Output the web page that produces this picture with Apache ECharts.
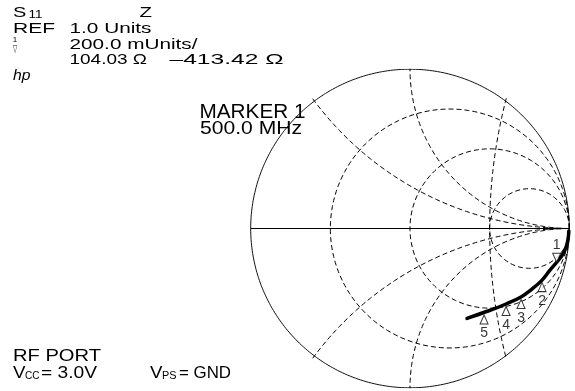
<!DOCTYPE html>
<html>
<head>
<meta charset="utf-8">
<script src="https://cdn.jsdelivr.net/npm/echarts@6/dist/echarts.min.js"></script>
<style>
  html, body { margin: 0; padding: 0; background: #fff; }
  #chart { width: 575px; height: 391px; }
</style>
</head>
<body>
<div id="chart"></div>
<script>
// Reference impedance and Smith chart grid (normalised values)
const z0 = 50;
const resistanceCircles = [1 / 3, 1, 3];
const reactanceArcs = [0.5, 1, -0.5, -1];
// extra grid arc: crosses the real axis at this Γ and meets the rim where x = ±rimArcReactance
const rimArcAxisGamma = 0.5;
const rimArcReactance = 2;

// S11 trace as reflection coefficient, low to high frequency
const traceRe = [0.997, 0.993, 0.982, 0.960, 0.921, 0.879, 0.829, 0.766, 0.697, 0.603, 0.490, 0.358];
const traceIm = [-0.016, -0.060, -0.110, -0.160, -0.212, -0.261, -0.324, -0.380, -0.430, -0.474, -0.518, -0.564];

// Marker 1 readout, ohms
const marker1R = 104.03;
const marker1X = -413.42;
// Markers 2-5 on the trace (Γ)
const markerLabels = ['2', '3', '4', '5'];
const markerRe = [0.829, 0.697, 0.603, 0.465];
const markerIm = [-0.324, -0.430, -0.474, -0.527];

// grid arcs poke slightly through the rim, as short ticks
const rimTick = 0.018;

function gammaFromZ(R, X) {
  const r = R / z0, x = X / z0;
  const den = (r + 1) * (r + 1) + x * x;
  return [((r - 1) * (r + 1) + x * x) / den, (2 * x) / den];
}

function arc(cx, cy, rad, a0, a1, n) {
  const pts = [];
  for (let i = 0; i <= n; i++) {
    const a = a0 + (a1 - a0) * i / n;
    pts.push([cx + rad * Math.cos(a), cy + rad * Math.sin(a)]);
  }
  return pts;
}

function norm(a) { return a < 0 ? a + 2 * Math.PI : a; }

function resistanceCircle(r) {
  return arc(r / (1 + r), 0, 1 / (1 + r), 0, 2 * Math.PI, 240);
}

function reactanceArc(x) {
  const ax = Math.abs(x);
  const cy = 1 / ax, rad = 1 / ax;
  const ex = (ax * ax - 1) / (ax * ax + 1), ey = 2 * ax / (ax * ax + 1);
  const aEnd = norm(Math.atan2(ey - cy, ex - 1)) - rimTick / rad;
  const pts = arc(1, cy, rad, aEnd, 1.5 * Math.PI, 200);
  return x < 0 ? pts.map(p => [p[0], -p[1]]) : pts;
}

function rimArc(g, x) {
  const px = (x * x - 1) / (x * x + 1), py = 2 * x / (x * x + 1);
  const c = (px * px + py * py - g * g) / (2 * (px - g));
  const rad = c - g;
  const a0 = Math.atan2(py, px - c) - rimTick / rad;
  return arc(c, 0, rad, a0, 2 * Math.PI - a0, 120);
}

const dashed = { color: '#000', width: 1, type: [5, 3] };
function gridLine(data, style) {
  return {
    type: 'line', data, showSymbol: false, silent: true, animation: false,
    lineStyle: style, z: 1
  };
}

const series = [];
series.push(gridLine(arc(0, 0, 1, 0, 2 * Math.PI, 360), { color: '#111', width: 1 }));
series.push(gridLine([[-1, 0], [1, 0]], { color: '#000', width: 1.2 }));
resistanceCircles.forEach(r => series.push(gridLine(resistanceCircle(r), dashed)));
reactanceArcs.forEach(x => series.push(gridLine(reactanceArc(x), dashed)));
series.push(gridLine(rimArc(rimArcAxisGamma, rimArcReactance), dashed));

// trace
series.push({
  type: 'line',
  data: traceRe.map((v, i) => [v, traceIm[i]]),
  showSymbol: false, smooth: 0.4, silent: true, animation: false,
  lineStyle: { color: '#000', width: 3.5, cap: 'round' }, z: 3
});

// marker 1 from its readout
const m1 = gammaFromZ(marker1R, marker1X);
series.push({
  type: 'scatter', data: [[m1[0], m1[1], '1']], animation: false, silent: true,
  symbol: 'triangle', symbolSize: [8, 9], symbolRotate: 180, symbolOffset: [0, -4.5],
  itemStyle: { color: '#fff', borderColor: '#000', borderWidth: 1 },
  label: { show: true, position: 'top', distance: 1, formatter: p => p.data[2],
           color: '#000', fontSize: 14, fontFamily: 'Liberation Sans' },
  z: 4
});
// markers 2-5
series.push({
  type: 'scatter', data: markerRe.map((v, i) => [v, markerIm[i], markerLabels[i]]),
  animation: false, silent: true,
  symbol: 'triangle', symbolSize: [8, 9], symbolOffset: [0, 7],
  itemStyle: { color: '#fff', borderColor: '#000', borderWidth: 1 },
  label: { show: true, position: 'bottom', distance: 2, formatter: p => p.data[2],
           color: '#000', fontSize: 14, fontFamily: 'Liberation Sans' },
  z: 4
});

// text annotations
const ctx = document.createElement('canvas').getContext('2d');
const SANS = 'Liberation Sans, Arial, sans-serif';
function txt(text, size, x, y, width, opts) {
  opts = opts || {};
  const family = opts.family || SANS;
  const styleStr = (opts.italic ? 'italic ' : '') + size + 'px ' + family;
  ctx.font = styleStr;
  let sx = opts.scale || 1;
  if (width) sx = width / ctx.measureText(text).width;
  return {
    type: 'text', x, y, scaleX: sx, silent: true,
    style: {
      text, fill: '#000', fontSize: size, fontFamily: family,
      fontStyle: opts.italic ? 'italic' : 'normal',
      align: opts.align || 'left', verticalAlign: 'middle',
      textAlign: opts.align || 'left', textVerticalAlign: 'middle'
    }
  };
}

const graphic = [
  txt('S', 15, 13, 12.8, 13.3),
  txt('11', 10, 28.5, 15.2, 14),
  txt('Z', 15, 139.5, 12.8, 12.5),
  txt('REF', 15, 13, 28.8, 42),
  txt('1.0 Units', 15, 69.5, 28.8, 82),
  txt('1', 8, 15, 39.7, null, { align: 'center' }),
  txt('\u25BD', 10, 15, 49, null, { align: 'center', scale: 0.55, family: 'DejaVu Sans' }),
  txt('200.0 mUnits/', 15, 69.5, 44.5, 128),
  txt('104.03 \u03A9', 15, 69.5, 60.3, 77.5),
  txt('\u2013413.42 \u03A9', 15, 169.5, 60.3, 114),
  txt('hp', 15, 13, 76.3, 17.5, { italic: true }),
  txt('MARKER 1', 20, 199.5, 112.2, 106),
  txt('500.0 MHz', 19, 200, 128.3, 102),
  txt('RF PORT', 17, 13, 356.7, 88),
  txt('V', 17, 13, 373.3, 12.5),
  txt('CC', 11, 25, 375.5, 14.5),
  txt('= 3.0V', 17, 41, 373.3, 56),
  txt('V', 17, 150, 373.3, 12.5),
  txt('PS', 11, 162, 375.5, 14.5),
  txt('= GND', 17, 179, 373.3, 52)
];

const chart = echarts.init(document.getElementById('chart'), null, { renderer: 'canvas' });
chart.setOption({
  animation: false,
  backgroundColor: '#fff',
  grid: { left: 250.7, top: 69.2, width: 318.6, height: 318.6 },
  xAxis: { type: 'value', min: -1, max: 1, show: false },
  yAxis: { type: 'value', min: -1, max: 1, show: false },
  series,
  graphic
});
</script>
</body>
</html>
